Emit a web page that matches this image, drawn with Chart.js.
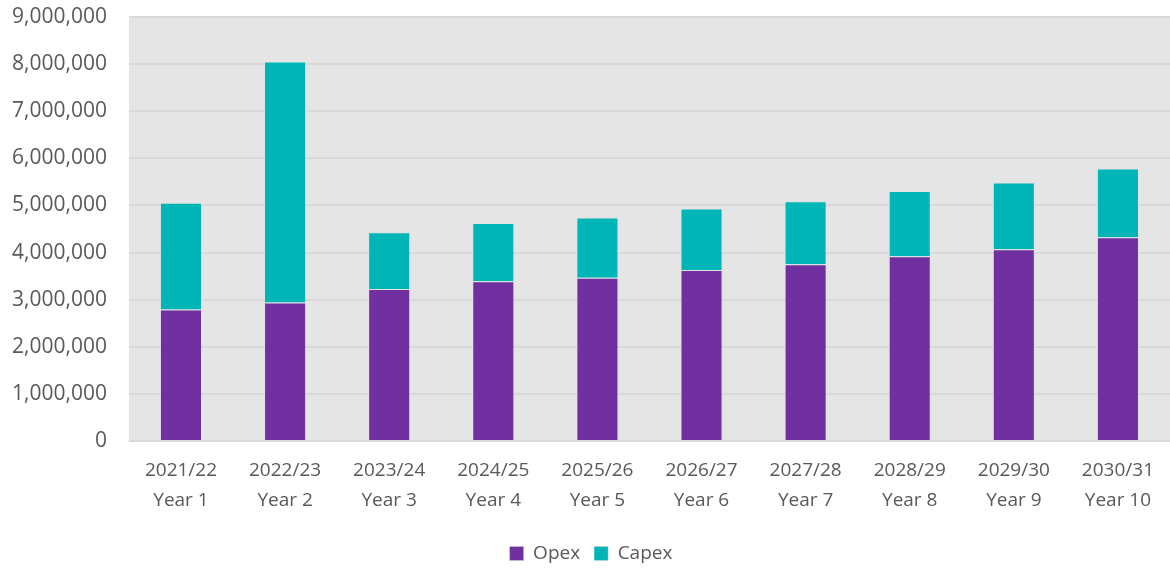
<!DOCTYPE html>
<html>
<head>
<meta charset="utf-8">
<script src="https://cdn.jsdelivr.net/npm/chart.js@4"></script>
<style>
html,body{margin:0;padding:0;background:#fff;}
#wrap{width:1170px;height:569px;position:relative;}
</style>
</head>
<body>
<div id="wrap"><canvas id="c" width="1170" height="569"></canvas></div>
<script>
const years = ["2021/22","2022/23","2023/24","2024/25","2025/26","2026/27","2027/28","2028/29","2029/30","2030/31"];
const yearLabels = ["Year 1","Year 2","Year 3","Year 4","Year 5","Year 6","Year 7","Year 8","Year 9","Year 10"];
const opex = [2794000, 2943000, 3227000, 3390000, 3468000, 3631000, 3752000, 3922000, 4071000, 4326000];
const capex = [2263000, 5114000, 1205000, 1241000, 1277000, 1305000, 1338000, 1383000, 1418000, 1461000];
const yTicks = {min: 0, max: 9000000, step: 1000000};

const labels = years.map((y, i) => [y, yearLabels[i]]);

const bgPlugin = {
  id: 'plotBg',
  afterLayout(chart) {
    if (chart.legend) { chart.legend.top += 8; chart.legend.bottom += 8; }
  },
  beforeDraw(chart) {
    const {ctx, chartArea: a} = chart;
    ctx.save();
    ctx.fillStyle = '#E5E5E5';
    ctx.fillRect(a.left, a.top, a.right - a.left, a.bottom - a.top);
    ctx.restore();
  }
};

const font = "'Open Sans', sans-serif";
new Chart(document.getElementById('c'), {
  type: 'bar',
  data: {
    labels: labels,
    datasets: [
      {label: 'Opex', data: opex, backgroundColor: '#7030A0', borderColor: 'rgba(220,220,230,0.35)', borderWidth: 1, barPercentage: 0.404, categoryPercentage: 1},
      {label: 'Capex', data: capex, backgroundColor: '#00B5B5', borderColor: 'rgba(220,220,230,0.35)', borderWidth: 1, barPercentage: 0.404, categoryPercentage: 1}
    ]
  },
  options: {
    responsive: false,
    animation: false,
    devicePixelRatio: 1,
    layout: {padding: {top: 17, right: 0, left: 12, bottom: 4}},
    plugins: {
      legend: {
        position: 'bottom',
        labels: {
          font: {family: font, size: 19},
          color: '#595959',
          boxWidth: 14, boxHeight: 14,
          padding: 14
        }
      },
      tooltip: {enabled: false}
    },
    scales: {
      x: {
        stacked: true,
        grid: {display: false},
        border: {display: true, color: '#D9D9D9'},
        ticks: {font: {family: font, size: 19, lineHeight: 1.55}, color: '#595959', padding: 7, maxRotation: 0}
      },
      y: {
        stacked: true,
        min: yTicks.min, max: yTicks.max,
        grid: {color: '#D9D9D9', lineWidth: 2, drawTicks: true, tickLength: 22, tickColor: 'rgba(0,0,0,0)'},
        border: {display: false},
        ticks: {stepSize: yTicks.step, font: {family: font, size: 21}, color: '#595959', padding: 0,
          callback: v => v.toLocaleString('en-US')}
      }
    }
  },
  plugins: [bgPlugin]
});
</script>
</body>
</html>
